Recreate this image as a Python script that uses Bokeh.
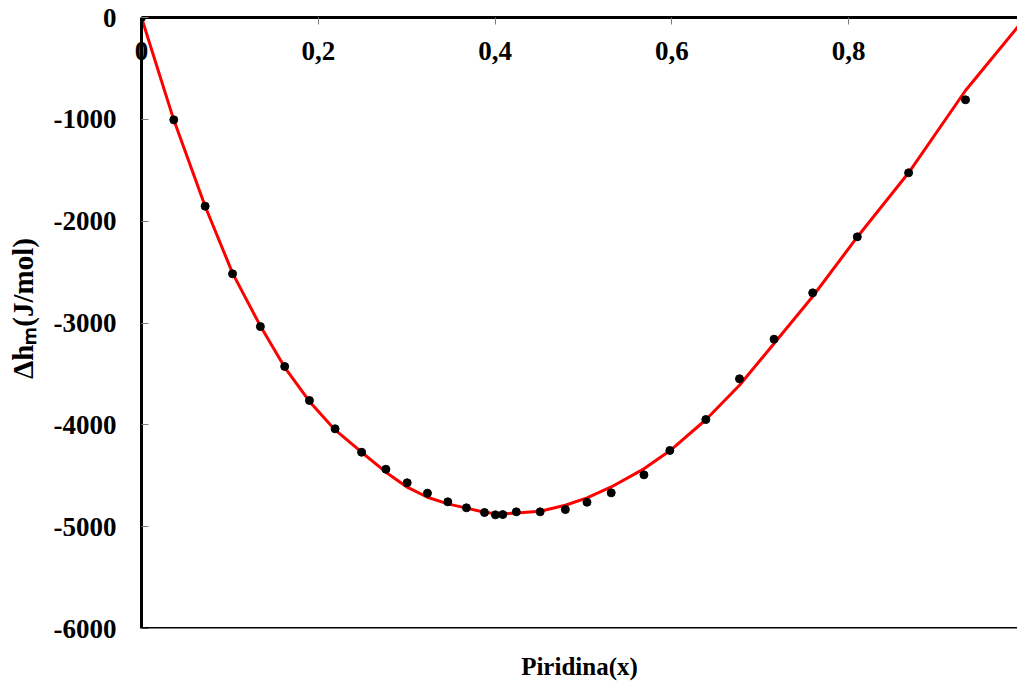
from bokeh.plotting import figure
from bokeh.models import Range1d, FixedTicker, Span, LinearAxis
from bokeh.embed import file_html
from bokeh.resources import INLINE

# Experimental points: mole fraction of pyridine vs excess molar enthalpy (J/mol)
x_exp = [0.0, 0.0365, 0.072, 0.103, 0.1345, 0.162, 0.190, 0.219, 0.249, 0.2765,
         0.3006, 0.3235, 0.3465, 0.3676, 0.388, 0.4004, 0.4087, 0.424, 0.451,
         0.4795, 0.504, 0.5314, 0.5684, 0.5977, 0.6384, 0.6765, 0.7156, 0.7593,
         0.8098, 0.8678, 0.9322]
y_exp = [0, -1005, -1853, -2517, -3035, -3427, -3761, -4039, -4269, -4436,
         -4569, -4671, -4756, -4815, -4861, -4884, -4881, -4854, -4854,
         -4832, -4760, -4668, -4491, -4252, -3948, -3548, -3159, -2704,
         -2154, -1525, -808]

# Fitted curve (red), read at the same compositions plus x = 1
x_fit = [0.0, 0.0365, 0.072, 0.103, 0.1345, 0.162, 0.190, 0.219, 0.249, 0.2765,
         0.3006, 0.3235, 0.3465, 0.3676, 0.388, 0.4004, 0.4087, 0.424, 0.451,
         0.4795, 0.504, 0.5314, 0.5684, 0.5977, 0.6384, 0.6765, 0.7156, 0.7593,
         0.8098, 0.8678, 0.9322, 1.0]
y_fit = [0, -1005, -1853, -2510, -3030, -3435, -3770, -4050, -4269, -4465,
         -4612, -4711, -4776, -4818, -4858, -4872, -4874, -4866, -4848,
         -4790, -4718, -4610, -4432, -4255, -3950, -3612, -3202, -2740,
         -2155, -1525, -717, 0]

x_ticks = [0.0, 0.2, 0.4, 0.6, 0.8, 1.0]
x_tick_labels = ["0", "0,2", "0,4", "0,6", "0,8", "1"]
y_ticks = [0, -1000, -2000, -3000, -4000, -5000, -6000]
y_tick_labels = ["0", "-1000", "-2000", "-3000", "-4000", "-5000", "-6000"]

x_title = "Piridina(x)"
y_title = "\u2003Δhₘ(J/mol)"

FONT = "Liberation Serif"

p = figure(width=1017, height=682, output_backend="svg", toolbar_location=None,
           x_range=Range1d(0, 0.991), y_range=Range1d(-6000, 0),
           x_axis_location="above",
           min_border_left=141, min_border_right=0, min_border_top=17,
           min_border_bottom=54)
p.grid.visible = False
p.outline_line_color = None
p.background_fill_color = "white"
p.border_fill_color = "white"

# Top axis (x) at y = 0, labels placed inside the plot area under the line
xa = p.xaxis[0]
xa.ticker = FixedTicker(ticks=x_ticks)
xa.major_label_overrides = {t: s for t, s in zip(x_ticks, x_tick_labels)}
xa.axis_line_width = 3
xa.axis_line_color = "black"
xa.major_tick_in = 7
xa.major_tick_out = 0
xa.minor_tick_in = 0
xa.minor_tick_out = 0
xa.major_tick_line_color = "#7f7f7f"
xa.major_tick_line_width = 1
xa.major_label_text_font = FONT
xa.major_label_text_font_style = "bold"
xa.major_label_text_font_size = "27px"
xa.major_label_text_color = "black"
xa.major_label_standoff = -42

# Left axis (y)
ya = p.yaxis[0]
ya.ticker = FixedTicker(ticks=y_ticks)
ya.major_label_overrides = {t: s for t, s in zip(y_ticks, y_tick_labels)}
ya.axis_line_width = 3
ya.axis_line_color = "black"
ya.major_tick_in = 7
ya.major_tick_out = 0
ya.minor_tick_in = 0
ya.minor_tick_out = 0
ya.major_tick_line_color = "#7f7f7f"
ya.major_tick_line_width = 1
ya.major_label_text_font = FONT
ya.major_label_text_font_style = "bold"
ya.major_label_text_font_size = "27px"
ya.major_label_text_color = "black"
ya.major_label_standoff = 25
ya.axis_label = y_title
ya.axis_label_text_font = FONT
ya.axis_label_text_font_style = "bold"
ya.axis_label_text_font_size = "29px"
ya.axis_label_text_color = "black"
ya.axis_label_standoff = 12

# Bottom: title only
xb = LinearAxis(ticker=FixedTicker(ticks=[]), axis_line_color=None,
                major_tick_line_color=None, minor_tick_line_color=None,
                major_label_standoff=0, axis_label=x_title,
                axis_label_text_font=FONT, axis_label_text_font_style="bold",
                axis_label_text_font_size="25px", axis_label_text_color="black",
                axis_label_standoff=24)
p.add_layout(xb, "below")

# bottom border of plot area
p.add_layout(Span(location=-6000, dimension="width", line_color="black", line_width=3))

# fitted curve and points
p.line(x_fit, y_fit, line_color="#ff0000", line_width=3)
p.scatter(x_exp, y_exp, size=8, fill_color="black", line_color="black", line_width=1)

open("out.html", "w").write(file_html(p, INLINE))
